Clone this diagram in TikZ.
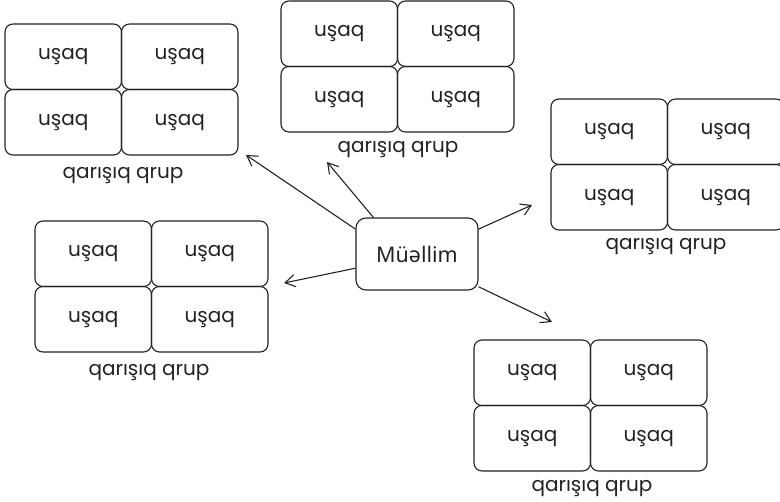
\documentclass[tikz,border=0pt]{standalone}
\usepackage{fontspec}
\setmainfont{Poppins}
\newfontfamily\mfont{Noto Sans}
\usetikzlibrary{arrows.meta}
\definecolor{ink}{HTML}{222222}
\tikzset{
  cell/.style={draw=ink, line width=1.1pt, rounded corners=8pt, minimum width=116.5pt, minimum height=65.5pt, inner sep=0pt, text=ink, font=\fontsize{20}{24}\selectfont},
  lbl/.style={text=ink, inner sep=0pt, font=\fontsize{20}{24}\selectfont},
  teacher/.style={draw=ink, line width=1.1pt, rounded corners=10pt, minimum width=122pt, minimum height=72pt, inner sep=0pt, text=ink, font=\mfont\fontsize{21.5}{26}\selectfont},
  arr/.style={draw=ink, line width=1.1pt, -{Straight Barb[length=10pt,width=12pt]}}
}
\newcommand\grp[5]{%
  \node[cell] (#1a) at ({#2+58.25},{#3+32.75}) {uşaq};
  \node[cell] (#1b) at ({#2+174.75},{#3+32.75}) {uşaq};
  \node[cell] (#1c) at ({#2+58.25},{#3+98.25}) {uşaq};
  \node[cell] (#1d) at ({#2+174.75},{#3+98.25}) {uşaq};
  \node[lbl] (#1l) at (#4,#5) {qarışıq qrup};
}
\begin{document}
\begin{tikzpicture}[x=1pt,y=-1pt]
  \useasboundingbox (0,0) rectangle (780,502);
  \grp{ga}{5}{24}{123}{176}
  \grp{gb}{281}{1}{398}{150}
  \grp{gc}{551}{99}{666}{247}
  \grp{gd}{35}{221}{149}{373}
  \grp{ge}{474}{340}{592}{489}
  \node[teacher] (m) at (417,254) {Müəllim};
  \coordinate (t1) at (246,155);
  \coordinate (t2) at (327,162);
  \coordinate (t3) at (532,205);
  \coordinate (t4) at (284,283);
  \coordinate (t5) at (552,322);
  \draw[arr] (m.158) -- (t1);
  \draw[arr] (m.140.6) -- (t2);
  \draw[arr] (m.22.6) -- (t3);
  \draw[arr] (m.193.6) -- (t4);
  \draw[arr] (m.332.7) -- (t5);
\end{tikzpicture}
\end{document}
